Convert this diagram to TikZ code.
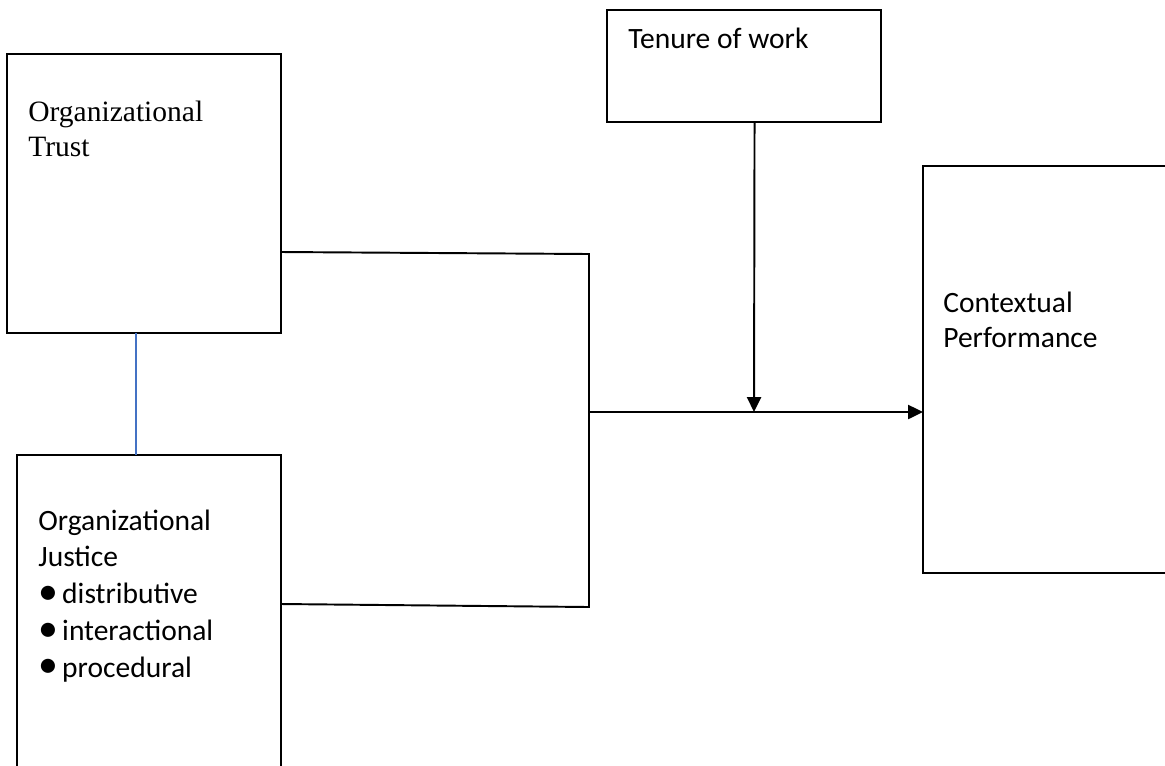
\documentclass[tikz,border=0pt]{standalone}
\usepackage{fontspec}
\setmainfont{Carlito}
\newfontfamily\serifbox{Liberation Serif}
\usepackage{tikz}
\usetikzlibrary{positioning, calc, arrows.meta}

\newcommand{\blt}{\makebox[13.6pt][l]{\raisebox{-0.5pt}{\scalebox{1.35}{\textbullet}}}}

\begin{document}
\begin{tikzpicture}[
    x=0.02cm, y=-0.02cm,
    >={Triangle[length=8.5pt, width=8pt]},
    box/.style={draw, line width=1.1pt, inner sep=0pt, outer sep=0pt},
    lbl/.style={anchor=base west, inner sep=0pt, align=left,
        font=\fontsize{16.8}{20.9}\selectfont},
    conn/.style={line width=1.1pt}
]
\useasboundingbox (0,0) rectangle (1165,765);

% 方框
\node[box, minimum width=5.48cm, minimum height=5.58cm] (trust) at (144,193.5) {};
\node[box, minimum width=5.28cm, minimum height=6.9cm] (justice) at (149,627.5) {};
\node[box, minimum width=5.48cm, minimum height=2.24cm] (tenure) at (744,66) {};
\node[box, minimum width=5.54cm, minimum height=8.14cm] (ctx) at (1061.5,369.5) {};

% 文字 (基线为最后一行)
\node[lbl, font=\serifbox\fontsize{16.8}{19.8}\selectfont] (trusttxt) at (28,156)
    {Organizational\\Trust};
\node[lbl] (justicetxt) at (38,677)
    {Organizational\\Justice\\
     \blt distributive\\
     \blt interactional\\
     \blt procedural};
\node[lbl] (tenuretxt) at (628,48) {Tenure of work};
\node[lbl, font=\fontsize{16.8}{19.6}\selectfont] (ctxtxt) at (943,347)
    {Contextual\\Performance};

% 连接点
\coordinate (jtop) at (589,254);
\coordinate (jbot) at (589,607);
\coordinate (jmid) at (589,412);
\coordinate (hit) at (754,412);

% 连线
\draw[conn] (trust.east |- 0,252) -- (jtop) -- (jbot) -- (justice.east |- 0,604);
\draw[conn, ->] (jmid) -- (ctx.west |- jmid);
\draw[conn, ->] ([xshift=6]tenure.south) -- (hit);
\draw[color={rgb,255:red,68;green,114;blue,196}, line width=0.8pt]
    (trust.south -| 136,0) -- (justice.north -| 136,0);

\end{tikzpicture}
\end{document}
